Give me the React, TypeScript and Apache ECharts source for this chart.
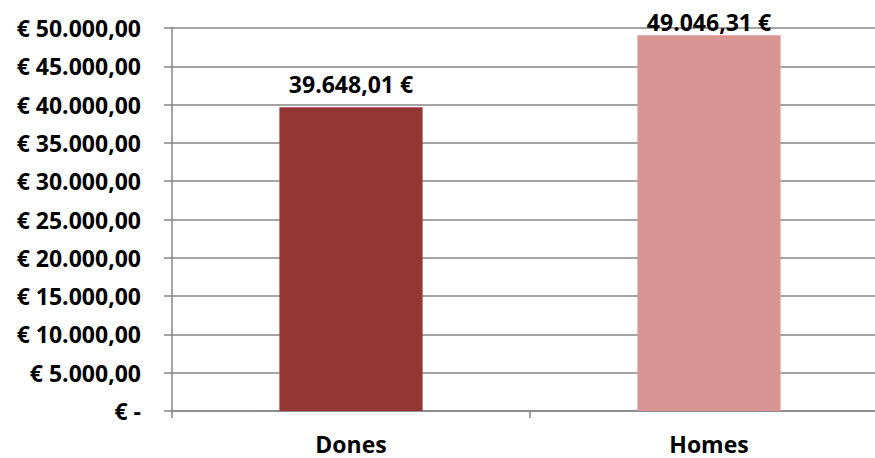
import React, { useEffect, useRef } from "react";
import * as echarts from "echarts";

const categories = ["Dones", "Homes"];
const values = [39648.01, 49046.31];
const barColors = ["#943634", "#D99594"];
const labelDistances = [12, 2];

const yMin = 0;
const yMax = 50000;
const yInterval = 5000;

function fmtNum(v: number): string {
  const fixed = v.toFixed(2);
  const [intPart, dec] = fixed.split(".");
  const withDots = intPart.replace(/\B(?=(\d{3})+(?!\d))/g, ".");
  return withDots + "," + dec;
}

const FONT = "Open Sans";
const FS = 23;

export default function App() {
  const ref = useRef<HTMLDivElement>(null);
  useEffect(() => {
    document.body.style.margin = "0";
    if (!ref.current) return;
    const chart = echarts.init(ref.current, null, { renderer: "svg" });
    const grey = "#868686";
    chart.setOption({
      animation: false,
      backgroundColor: "#ffffff",
      grid: {
        left: 172,
        top: 28,
        width: 716,
        bottom: 47,
        containLabel: false,
        outerBoundsMode: "none",
      },
      xAxis: {
        type: "category",
        data: categories,
        boundaryGap: true,
        axisLine: { show: true, lineStyle: { color: grey, width: 1.5 } },
        axisTick: { show: true, length: 7, lineStyle: { color: grey, width: 1.5 } },
        axisLabel: {
          margin: 21,
          color: "#000",
          fontFamily: FONT,
          fontWeight: "bold",
          fontSize: FS,
        },
      },
      yAxis: {
        type: "value",
        min: yMin,
        max: yMax,
        interval: yInterval,
        axisLine: { show: true, lineStyle: { color: grey, width: 1.5 } },
        axisTick: { show: true, length: 8, lineStyle: { color: grey, width: 1.5 } },
        splitLine: { show: true, lineStyle: { color: grey, width: 1.5 } },
        axisLabel: {
          margin: 31,
          color: "#000",
          fontFamily: FONT,
          fontWeight: "bold",
          fontSize: FS,
          formatter: (v: number) => (v === 0 ? "€ -" : "€ " + fmtNum(v)),
        },
      },
      series: [
        {
          type: "bar",
          barWidth: "40%",
          data: values.map((v, i) => ({
            value: v,
            itemStyle: { color: barColors[i] },
            label: {
              show: true,
              position: "top",
              distance: labelDistances[i],
              color: "#000",
              fontFamily: FONT,
              fontWeight: "bold",
              fontSize: FS,
              formatter: () => fmtNum(v) + " €",
            },
          })),
        },
      ],
    });
    return () => chart.dispose();
  }, []);
  return <div ref={ref} style={{ width: 875, height: 458 }} />;
}
